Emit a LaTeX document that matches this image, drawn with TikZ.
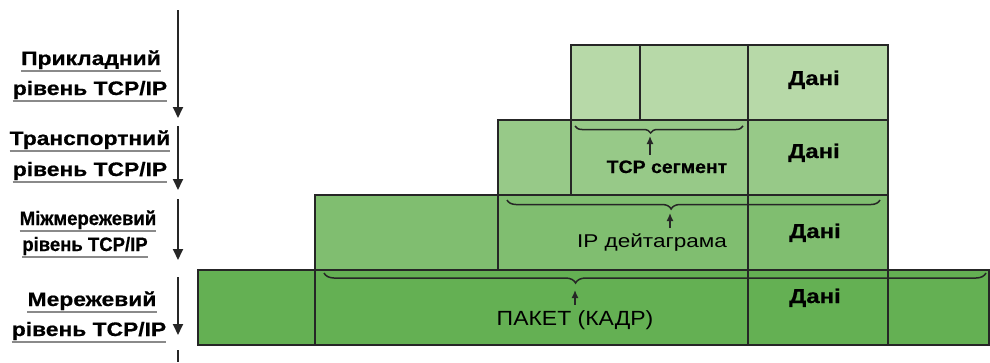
\documentclass[tikz,border=0pt]{standalone}
\usepackage{fontspec}
\setmainfont{Liberation Sans}
\newfontfamily\lblfont{Liberation Sans}[FakeStretch=1.17, BoldFeatures={FakeBold=0.6}]
\newfontfamily\lblnarrow{Liberation Sans}[FakeStretch=0.95, BoldFeatures={FakeBold=0.6}]
\newfontfamily\datfont{Liberation Sans}[FakeStretch=1.2, BoldFeatures={FakeBold=0.6}]
\newfontfamily\tcpfont{Liberation Sans}[FakeStretch=1.08, BoldFeatures={FakeBold=0.5}]
\newfontfamily\ipfont{Liberation Sans}[FakeStretch=1.22]
\newfontfamily\pktfont{Liberation Sans}[FakeStretch=1.12]
\usetikzlibrary{arrows.meta,decorations.pathreplacing}

\definecolor{appgreen}{HTML}{B7D9A8}
\definecolor{trgreen}{HTML}{97C988}
\definecolor{ipgreen}{HTML}{80BE70}
\definecolor{netgreen}{HTML}{64B053}
\definecolor{ulgray}{HTML}{8A8A8A}

\tikzset{
    layer/.style={draw=black!85, line width=1.6pt},
    lbl/.style={inner sep=0pt, anchor=base, font=\lblfont\bfseries\fontsize{19.5}{22}\selectfont},
    lblthin/.style={inner sep=0pt, anchor=base, font=\lblnarrow\bfseries\fontsize{19.5}{22}\selectfont},
    uline/.style={draw=ulgray, line width=1.3pt},
    vArr/.style={line width=1.8pt, black!85, -{Triangle[length=11pt,width=10pt]}},
    dat/.style={inner sep=0pt, anchor=base, font=\datfont\bfseries\fontsize{20}{22}\selectfont},
    brc/.style={line width=1.5pt, black!85, decorate, decoration={brace, mirror, amplitude=#1}},
    upArr/.style={line width=1.4pt, black!85, shorten <=5pt, -{Latex[length=8pt,width=7pt]}},
}

\begin{document}
\begin{tikzpicture}[x=1pt, y=-1pt]
        \useasboundingbox (0,0) rectangle (990,362);

        % layer labels
        \node[lbl] (l1a) at (91,65) {Прикладний};
        \node[lbl] (l1b) at (90,95) {рівень TCP/IP};
        \node[lbl] (l2a) at (90,145) {Транспортний};
        \node[lbl] (l2b) at (90,176) {рівень TCP/IP};
        \node[lblthin] (l3a) at (88,225) {Міжмережевий};
        \node[lblthin] (l3b) at (85,251) {рівень TCP/IP};
        \node[lbl] (l4a) at (92,306) {Мережевий};
        \node[lbl] (l4b) at (89,336) {рівень TCP/IP};
        \foreach \n in {l1a,l1b,l2a,l2b,l3a,l3b,l4a,l4b}
            \draw[uline] ([yshift=-6pt]\n.base west) -- ([yshift=-6pt]\n.base east);

        \foreach \i/\a/\b in {1/10/118, 2/126/190, 3/199/260, 4/277/335} {
            \coordinate (s\i) at (178,\a);
            \coordinate (e\i) at (178,\b);
            \draw[vArr] (s\i) -- (e\i);
        }
        \coordinate (s5) at (178,350);
        \coordinate (e5) at (178,362);
        \draw[line width=1.8pt, black!85] (s5) -- (e5);

        % layers
        \draw[layer, fill=netgreen] (198,270) rectangle (989,345);
        \draw[layer] (315,270) -- (315,345) (748,270) -- (748,345) (888,270) -- (888,345);
        \draw[layer, fill=ipgreen] (315,195) rectangle (888,270);
        \draw[layer] (498,195) -- (498,270) (748,195) -- (748,270);
        \draw[layer, fill=trgreen] (498,120) rectangle (888,195);
        \draw[layer] (571,120) -- (571,195) (748,120) -- (748,195);
        \draw[layer, fill=appgreen] (571,45) rectangle (888,120);
        \draw[layer] (640,45) -- (640,120) (748,45) -- (748,120);

        \node[dat] (d1) at (814,85) {Дані};
        \node[dat] (d2) at (814,158) {Дані};
        \node[dat] (d3) at (815,238) {Дані};
        \node[dat] (d4) at (815,303) {Дані};

        % braces
        \draw[brc=7pt, decoration={aspect=0.45}] (575,126) -- (743,126);
        \draw[brc=9pt, decoration={aspect=0.44}] (507,200) -- (880,200);
        \draw[brc=10pt, decoration={aspect=0.38}] (324,273) -- (986,273);
        \coordinate (tcptip) at (650,136);
        \coordinate (iptip) at (670,213);
        \coordinate (pkttip) at (575,290);

        \node[inner sep=0pt, anchor=base, font=\tcpfont\bfseries\fontsize{18}{20}\selectfont] (tcp) at (667,173) {TCP сегмент};
        \node[inner sep=0pt, anchor=base, font=\ipfont\fontsize{18.5}{20}\selectfont] (ip) at (652,247) {IP дейтаграма};
        \node[inner sep=0pt, anchor=base, font=\pktfont\fontsize{20.5}{22}\selectfont] (pkt) at (575,325) {ПАКЕТ (КАДР)};
        \draw[upArr] (tcptip |- tcp.north) -- (tcptip);
        \draw[upArr] (iptip |- ip.north) -- (iptip);
        \draw[upArr] (pkttip |- pkt.north) -- (pkttip);

    \end{tikzpicture}
\end{document}
